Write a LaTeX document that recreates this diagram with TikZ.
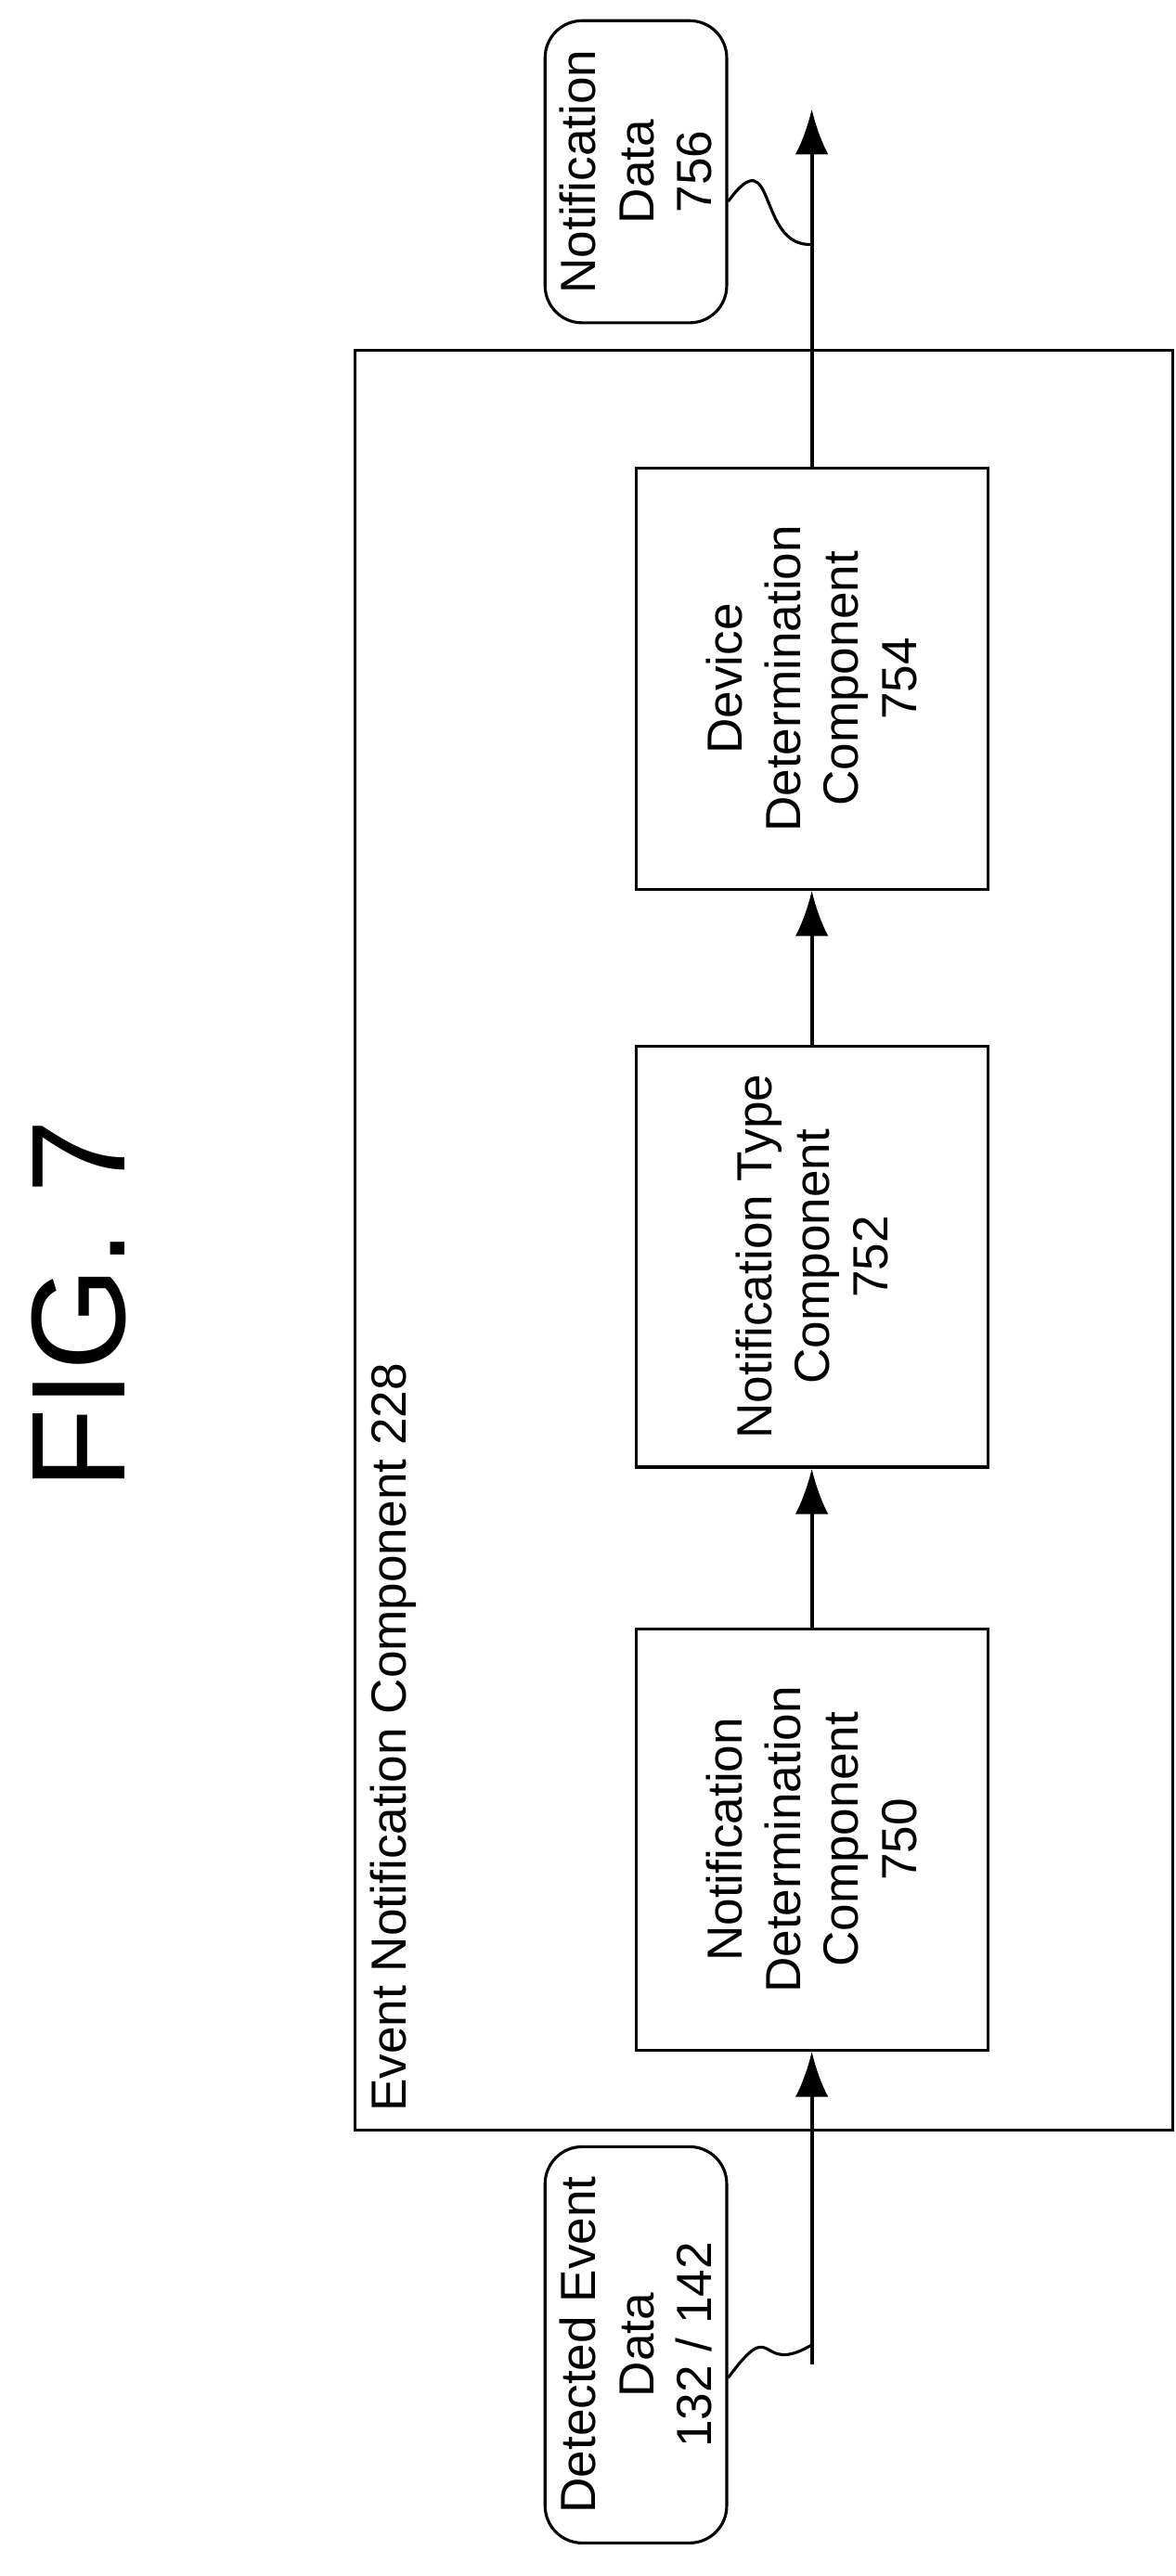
\documentclass[tikz,border=0pt]{standalone}
\usepackage{fontspec}
\setmainfont{Liberation Sans}
\usetikzlibrary{arrows.meta, positioning}
\begin{document}
\begin{tikzpicture}[x=0.02cm,y=-0.02cm,
    elem/.style={draw,rectangle,rotate=90,align=center,line width=1pt,minimum width=5.1cm,minimum height=4.26cm,font=\fontsize{17}{20}\selectfont},
    data/.style={draw,rectangle,rounded corners=0.45cm,rotate=90,align=center,line width=1pt,minimum width=4.8cm,minimum height=2.2cm,font=\fontsize{17}{20}\selectfont},
    flow/.style={-{Latex[length=0.55cm,width=0.4cm]},line width=1.3pt}]
    \useasboundingbox (0,0) rectangle (712,1560);
    \node (fig) [rotate=90,font=\fontsize{46}{50}\selectfont] at (48,790) {FIG. 7};
    \node (enc) [draw,rectangle,line width=1pt,minimum width=9.9cm,minimum height=21.56cm] at (462.5,751) {};
    \node (lbl) [rotate=90,anchor=north west,font=\fontsize{17}{20}\selectfont] at (218,1285) {Event Notification Component 228};
    \node (ndc) [elem] at (491.5,1114) {Notification\\Determination\\Component\\750};
    \node (ntc) [elem] at (491.5,761) {Notification Type\\Component\\752};
    \node (ddc) [elem] at (491.5,411) {Device\\Determination\\Component\\754};
    \node (ded) [data] at (385,1420) {Detected Event\\Data\\132 / 142};
    \node (nod) [data,minimum width=3.66cm] at (385,104) {Notification\\Data\\756};
    \coordinate (src) at (491.5,1432);
    \coordinate (dst) at (491.5,66);
    \draw[flow] (src) -- (ndc.west);
    \draw[flow] (ndc.east) -- (ntc.west);
    \draw[flow] (ntc.east) -- (ddc.west);
    \draw[flow] (ddc.east) -- (dst);
    % wiggly leaders
    \draw[line width=1pt] (ded.south |- 0,1440) .. controls (470,1400) and (458,1440) .. (491.5,1420);
    \draw[line width=1pt] (nod.south |- 0,122) .. controls (470,82) and (458,150) .. (491.5,148);
\end{tikzpicture}
\end{document}
